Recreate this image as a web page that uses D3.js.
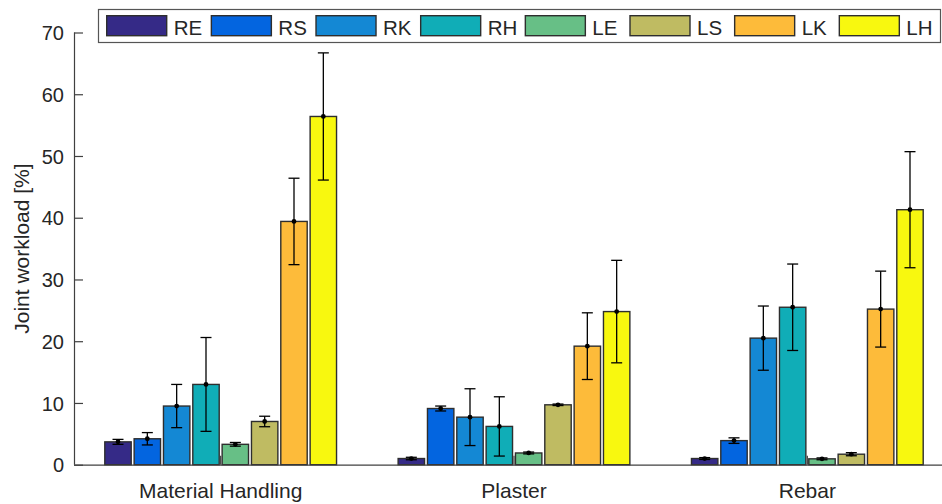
<!DOCTYPE html>
<html>
<head>
<meta charset="utf-8">
<script src="https://cdn.jsdelivr.net/npm/d3@7"></script>
<style>
  html, body { margin: 0; padding: 0; background: #fff; }
  svg { display: block; font-family: "Liberation Sans", Arial, Helvetica, sans-serif; }
</style>
</head>
<body>
<svg id="chart" width="942" height="504"></svg>
<script>
// Tasks on the x axis and joints shown as bars within each task
const tasks = ["Material Handling", "Plaster", "Rebar"];
const joints = ["RE", "RS", "RK", "RH", "LE", "LS", "LK", "LH"];
const jointColors = ["#352a87", "#0365e0", "#1488d4", "#10adb7", "#67bf86", "#bfbb62", "#fdbb3a", "#f8f80f"];

// Mean joint workload [%] and standard deviation per task
const meanMaterialHandling = [3.7, 4.2, 9.5, 13.0, 3.3, 7.0, 39.4, 56.4];
const sdMaterialHandling   = [0.4, 1.0, 3.5, 7.6, 0.3, 0.85, 7.0, 10.3];
const meanPlaster = [1.0, 9.1, 7.7, 6.2, 1.9, 9.7, 19.2, 24.8];
const sdPlaster   = [0.2, 0.4, 4.6, 4.8, 0.15, 0.12, 5.4, 8.3];
const meanRebar = [1.0, 3.9, 20.5, 25.5, 0.95, 1.7, 25.2, 41.3];
const sdRebar   = [0.15, 0.45, 5.2, 7.0, 0.15, 0.25, 6.15, 9.4];

const yTicks = [0, 10, 20, 30, 40, 50, 60, 70];

const means = [meanMaterialHandling, meanPlaster, meanRebar];
const sds = [sdMaterialHandling, sdPlaster, sdRebar];
const rows = [];
tasks.forEach((t, ti) => joints.forEach((j, ji) => {
  rows.push({ task: t, joint: j, color: jointColors[ji], mean: means[ti][ji], sd: sds[ti][ji] });
}));

const svg = d3.select("#chart");
const axisColor = "#404040";
const textColor = "#262626";

const plotLeft = 74, plotRight = 954, plotTop = 32.5, plotBottom = 464.7;

const x0 = d3.scaleBand().domain(tasks).range([plotLeft, plotRight]).paddingInner(0).paddingOuter(0);
const groupWidth = x0.bandwidth() * 0.8;
const x1 = d3.scaleBand().domain(joints)
  .range([x0.bandwidth() * 0.1, x0.bandwidth() * 0.1 + groupWidth])
  .paddingInner(0.1).paddingOuter(0.05);
const y = d3.scaleLinear().domain([0, 70]).range([plotBottom, plotTop]);

// Bars
const g = svg.append("g");
g.selectAll("rect.bar").data(rows).enter().append("rect")
  .attr("class", "bar")
  .attr("x", d => x0(d.task) + x1(d.joint))
  .attr("y", d => y(d.mean))
  .attr("width", x1.bandwidth())
  .attr("height", d => y(0) - y(d.mean))
  .attr("fill", d => d.color)
  .attr("stroke", "#2e2e2e")
  .attr("stroke-width", 1.4);

// Error bars
const cx = d => x0(d.task) + x1(d.joint) + x1.bandwidth() / 2;
const capHalf = 5.5;
const eb = g.selectAll("g.err").data(rows).enter().append("g").attr("class", "err")
  .attr("stroke", "#000").attr("stroke-width", 1.3);
eb.append("line")
  .attr("x1", cx).attr("x2", cx)
  .attr("y1", d => y(d.mean + d.sd)).attr("y2", d => y(d.mean - d.sd));
eb.append("line")
  .attr("x1", d => cx(d) - capHalf).attr("x2", d => cx(d) + capHalf)
  .attr("y1", d => y(d.mean + d.sd)).attr("y2", d => y(d.mean + d.sd));
eb.append("line")
  .attr("x1", d => cx(d) - capHalf).attr("x2", d => cx(d) + capHalf)
  .attr("y1", d => y(d.mean - d.sd)).attr("y2", d => y(d.mean - d.sd));
g.selectAll("circle.mean").data(rows).enter().append("circle")
  .attr("class", "mean")
  .attr("cx", cx).attr("cy", d => y(d.mean)).attr("r", 2.4)
  .attr("fill", "#000");

// Y axis
const yAxis = d3.axisLeft(y).tickValues(yTicks).tickSizeInner(-9).tickSizeOuter(0).tickPadding(10);
const ya = svg.append("g").attr("transform", `translate(${plotLeft},0)`).call(yAxis);
ya.select(".domain").attr("stroke", axisColor).attr("stroke-width", 1.2)
  .attr("d", `M0.5,${plotBottom}V${plotTop}`);
ya.selectAll(".tick line").attr("stroke", axisColor).attr("stroke-width", 1.2);
ya.selectAll(".tick text").attr("fill", textColor).style("font-size", "20px")
  .attr("x", -10).attr("dy", "0.36em");

// X axis
const xAxis = d3.axisBottom(x0).tickSizeInner(-9).tickSizeOuter(0).tickPadding(12);
const xa = svg.append("g").attr("transform", `translate(0,${plotBottom})`).call(xAxis);
xa.select(".domain").attr("stroke", axisColor).attr("stroke-width", 1.2)
  .attr("d", `M${plotLeft},0.5H${plotRight}`);
xa.selectAll(".tick line").attr("stroke", axisColor).attr("stroke-width", 1.2);
xa.selectAll(".tick text").attr("fill", textColor).style("font-size", "21px")
  .attr("y", 33).attr("dy", 0);

// Y axis title
svg.append("text")
  .attr("transform", `translate(29,${(plotTop + plotBottom) / 2}) rotate(-90)`)
  .attr("text-anchor", "middle")
  .attr("fill", textColor)
  .style("font-size", "21px")
  .text("Joint workload [%]");

// Legend
const legend = svg.append("g");
legend.append("rect")
  .attr("x", 98.5).attr("y", 9.5).attr("width", 842).attr("height", 33)
  .attr("fill", "#fff").attr("stroke", "#555").attr("stroke-width", 1.2);
const legendStep = 104.66;
const items = legend.selectAll("g.item").data(joints).enter().append("g")
  .attr("class", "item")
  .attr("transform", (d, i) => `translate(${106.7 + i * legendStep},0)`);
items.append("rect")
  .attr("x", 0).attr("y", 15.7).attr("width", 60).attr("height", 20)
  .attr("fill", (d, i) => jointColors[i])
  .attr("stroke", "#2e2e2e").attr("stroke-width", 1.4);
items.append("text")
  .attr("x", 67).attr("y", 35)
  .attr("fill", textColor)
  .style("font-size", "20.5px")
  .text(d => d);
</script>
</body>
</html>
